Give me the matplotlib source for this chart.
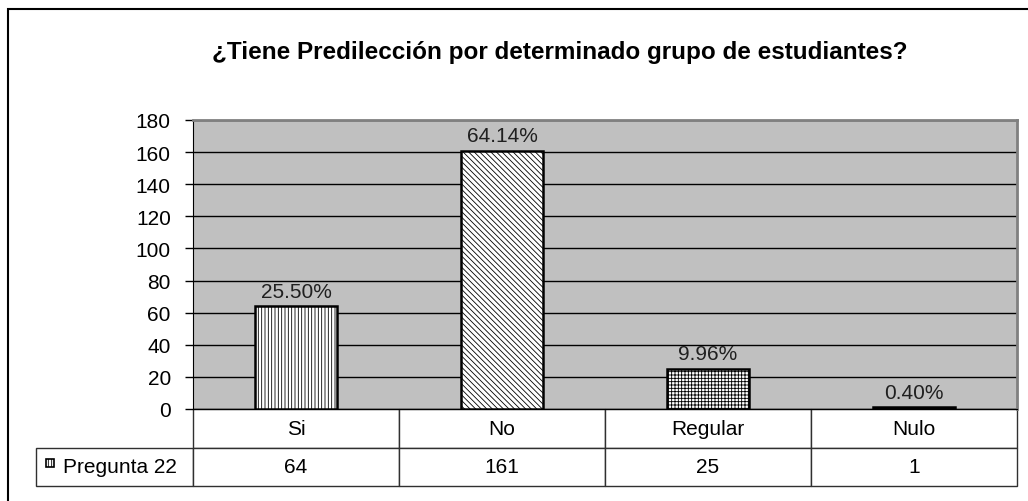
import matplotlib.pyplot as plt
from matplotlib.patches import Rectangle

categories = ['Si', 'No', 'Regular', 'Nulo']
values = [64, 161, 25, 1]
percents = ['25.50%', '64.14%', '9.96%', '0.40%']
hatches = ['|||||', '\\\\\\\\\\\\', '+++++', '|||||']
series_name = 'Pregunta 22'
title = '¿Tiene Predilección por determinado grupo de estudiantes?'

plt.rcParams['font.family'] = ['Liberation Sans', 'DejaVu Sans']
plt.rcParams['hatch.linewidth'] = 0.6

fig = plt.figure(figsize=(10.28, 5.02), dpi=100)
ax = fig.add_axes([193/1028, 92/502, 824/1028, 289/502])
ax.set_facecolor('#C0C0C0')

x = range(len(categories))
bars = ax.bar(x, values, width=0.4, color='white', edgecolor='black', linewidth=1.8, zorder=3)
for b, h in zip(bars, hatches):
  b.set_hatch(h)

for i, (v, p) in enumerate(zip(values, percents)):
  ax.annotate(p, (i, v), xytext=(0, 4), textcoords='offset points',
              ha='center', va='bottom', fontsize=15, color='#202020', zorder=4)

ax.set_xlim(-0.5, len(categories) - 0.5)
ax.set_ylim(0, 180)
ax.set_yticks(range(0, 181, 20))
ax.set_xticks([])
ax.yaxis.grid(True, color='black', linewidth=1)
ax.set_axisbelow(True)
ax.tick_params(axis='y', labelsize=15, length=6, width=1, pad=10)
for s in ['top', 'right']:
  ax.spines[s].set_color('#808080')
  ax.spines[s].set_linewidth(2)
ax.spines['left'].set_color('black')
ax.spines['bottom'].set_color('black')

# data table below the plot
cells = [[''] + categories, [series_name] + [str(v) for v in values]]
w0 = 157 / 824
tab = ax.table(cellText=cells, colWidths=[w0] + [1/4]*4, cellLoc='center',
               bbox=[-w0, -77/289, 1 + w0, 77/289])
tab.auto_set_font_size(False)
tab.set_fontsize(15)
for (r, c), cell in tab.get_celld().items():
  cell.set_edgecolor('#303030')
  cell.set_linewidth(1)
tab[0, 0].visible_edges = ''
lab = tab[1, 0]
lab.set_text_props(ha='left')
lab.PAD = 0.17

# legend key inside the row label cell
key = Rectangle((46/1028, (502-468)/502), 8/1028, 8/502, transform=fig.transFigure,
                facecolor='white', edgecolor='black', linewidth=1.2, hatch='|||||')
fig.patches.append(key)

# outer chart border (left and top visible)
frame = Rectangle((8/1028, -0.2), 1.2, 1.2 - 10/502, transform=fig.transFigure,
                  fill=False, edgecolor='black', linewidth=1.5)
fig.patches.append(frame)

fig.text(560/1028, 1 - 53/502, title, ha='center', va='center', fontsize=17.5, fontweight='bold')

fig.savefig('out.png', dpi=100)
